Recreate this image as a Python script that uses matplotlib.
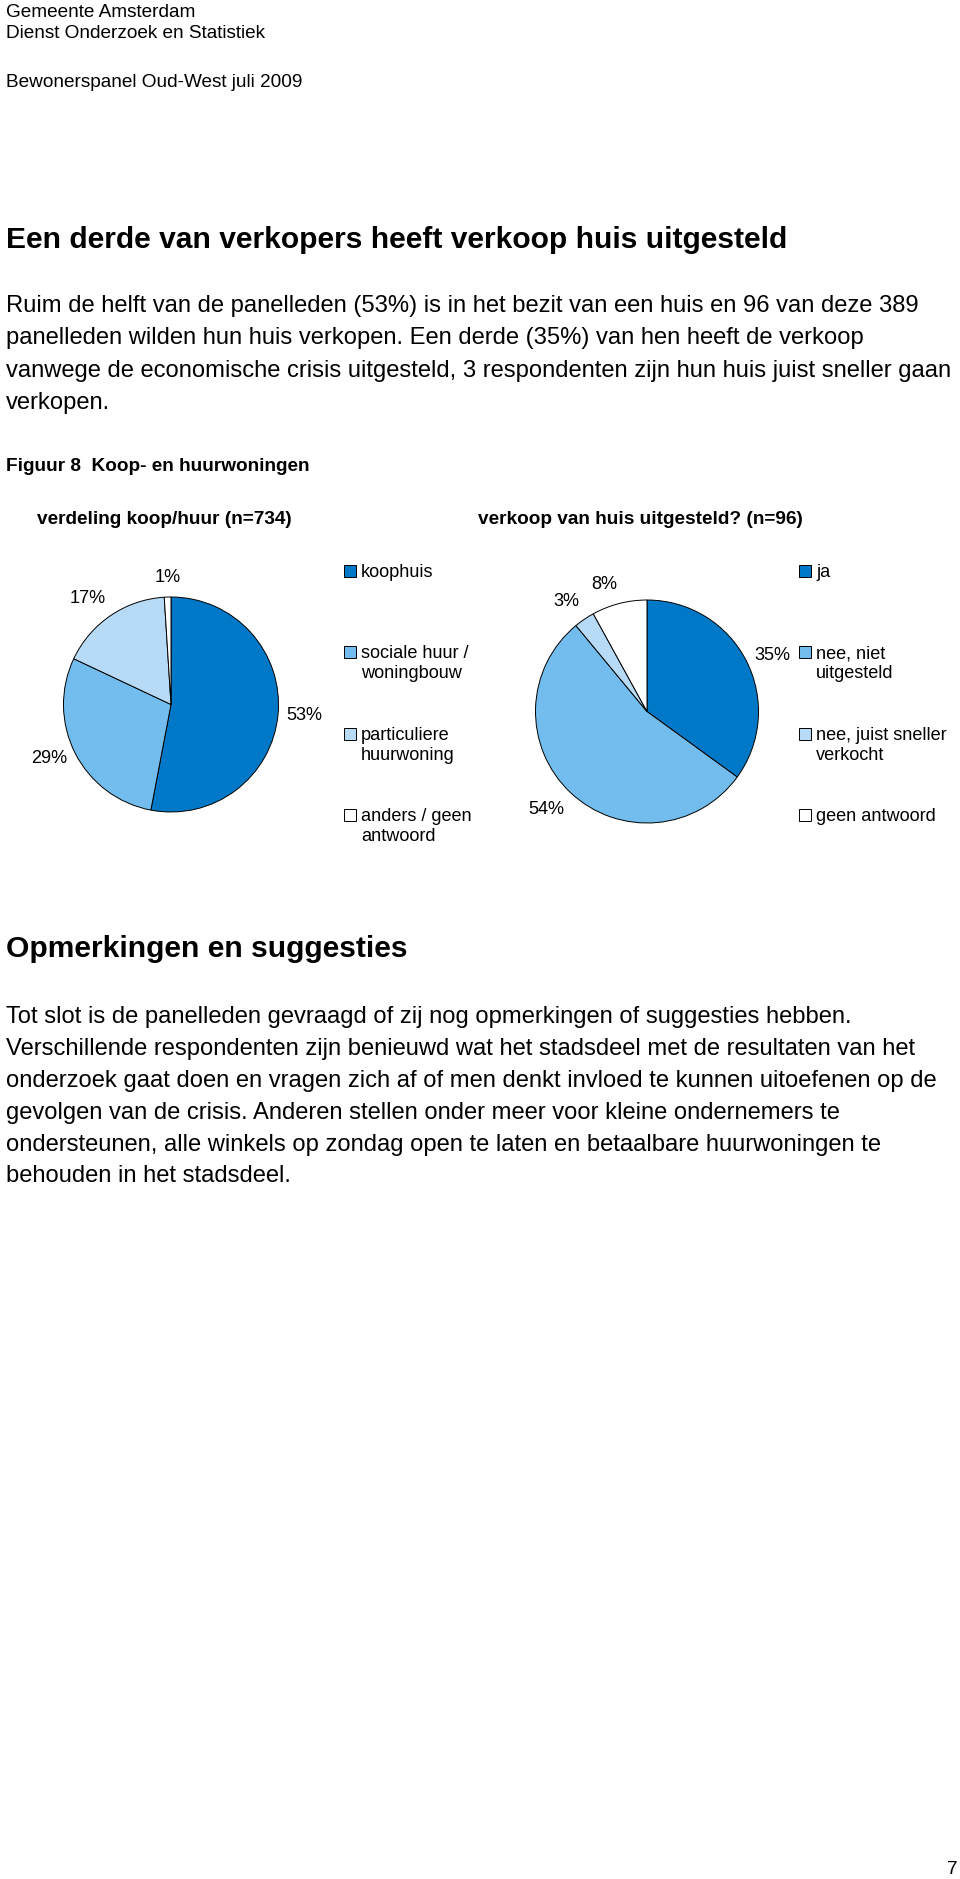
import matplotlib
matplotlib.use("Agg")
import numpy as np
import matplotlib.pyplot as plt
from matplotlib.patches import Rectangle

plt.rcParams["font.family"] = ["Liberation Sans", "DejaVu Sans"]

W, H = 960, 1879
TEXT = "#000000"
DARK = "#0078c8"
MID = "#72bded"
LIGHT = "#b7dbf6"
WHITE = "#ffffff"

# ---------------------------------------------------------------- data
HEADER = ["Gemeente Amsterdam", "Dienst Onderzoek en Statistiek"]
SUBHEADER = "Bewonerspanel Oud-West juli 2009"
TITLE = "Een derde van verkopers heeft verkoop huis uitgesteld"
INTRO = [
    "Ruim de helft van de panelleden (53%) is in het bezit van een huis en 96 van deze 389",
    "panelleden wilden hun huis verkopen. Een derde (35%) van hen heeft de verkoop",
    "vanwege de economische crisis uitgesteld, 3 respondenten zijn hun huis juist sneller gaan",
    "verkopen.",
]
FIG_CAPTION = "Figuur 8  Koop- en huurwoningen"

PIE1_TITLE = "verdeling koop/huur (n=734)"
PIE1_LABELS = ["koophuis", "sociale huur /\nwoningbouw", "particuliere\nhuurwoning",
               "anders / geen\nantwoord"]
PIE1_VALUES = [53, 29, 17, 1]

PIE2_TITLE = "verkoop van huis uitgesteld? (n=96)"
PIE2_LABELS = ["ja", "nee, niet\nuitgesteld", "nee, juist sneller\nverkocht", "geen antwoord"]
PIE2_VALUES = [35, 54, 3, 8]

PIE_COLORS = [DARK, MID, LIGHT, WHITE]

SECTION2 = "Opmerkingen en suggesties"
OUTRO = [
    "Tot slot is de panelleden gevraagd of zij nog opmerkingen of suggesties hebben.",
    "Verschillende respondenten zijn benieuwd wat het stadsdeel met de resultaten van het",
    "onderzoek gaat doen en vragen zich af of men denkt invloed te kunnen uitoefenen op de",
    "gevolgen van de crisis. Anderen stellen onder meer voor kleine ondernemers te",
    "ondersteunen, alle winkels op zondag open te laten en betaalbare huurwoningen te",
    "behouden in het stadsdeel.",
]
PAGE = "7"

# ---------------------------------------------------------------- layout
fig = plt.figure(figsize=(W / 100, H / 100), dpi=100)
page = fig.add_axes([0, 0, 1, 1])
page.set_xlim(0, W)
page.set_ylim(H, 0)
page.axis("off")

LM = 6
BODY = 17.1
HEAD = 21.6
SMALL = 13.1


def lines(ax, rows, y0, step, size, weight="normal"):
    for i, row in enumerate(rows):
        ax.text(LM, y0 + i * step, row, fontsize=size, fontweight=weight,
                color=TEXT, va="baseline", ha="left")


lines(page, HEADER, 17, 21, 13.7)
lines(page, [SUBHEADER], 87, 0, 13.7)
lines(page, [TITLE], 248, 0, HEAD, "bold")
lines(page, INTRO, 312, 32.3, BODY)
lines(page, [FIG_CAPTION], 471, 0, 13.65, "bold")


def pie_axes(cx, cy, r):
    ax = fig.add_axes([(cx - r) / W, (H - cy - r) / H, 2 * r / W, 2 * r / H])
    ax.axis("off")
    return ax


def draw_pie(ax, values):
    wedges, _ = ax.pie(values, colors=PIE_COLORS, startangle=90, counterclock=False,
                       radius=1, wedgeprops=dict(edgecolor="black", linewidth=0.7))
    ax.set_xlim(-1, 1)
    ax.set_ylim(-1, 1)
    # Excel-style outside labels: anchored just off the rim, aligned away from the pie
    for w, v in zip(wedges, values):
        ang = np.deg2rad((w.theta1 + w.theta2) / 2)
        c, s = np.cos(ang), np.sin(ang)
        ha = "center" if abs(c) < 0.15 else ("left" if c > 0 else "right")
        va = "center" if abs(s) < 0.5 else ("bottom" if s > 0 else "top")
        ax.text(1.08 * c, 1.1 * s, f"{v}%", ha=ha, va=va, fontsize=SMALL, color=TEXT)


def legend(ax, labels, x_sq, y0, step):
    for i, lab in enumerate(labels):
        y = y0 + i * step
        ax.add_patch(Rectangle((x_sq, y - 6), 12, 12, facecolor=PIE_COLORS[i],
                               edgecolor="black", linewidth=0.7))
        for j, part in enumerate(lab.split("\n")):
            ax.text(x_sq + 17, y + 6 + j * 20, part, fontsize=SMALL, color=TEXT,
                    va="baseline", ha="left")


page.text(37, 524, PIE1_TITLE, fontsize=13.65, fontweight="bold", va="baseline")
page.text(478, 524, PIE2_TITLE, fontsize=13.65, fontweight="bold", va="baseline")

ax1 = pie_axes(171, 704.5, 107.5)
draw_pie(ax1, PIE1_VALUES)
legend(page, PIE1_LABELS, 344, 571, 81.3)

ax2 = pie_axes(647, 711.5, 111.5)
draw_pie(ax2, PIE2_VALUES)
legend(page, PIE2_LABELS, 799, 571, 81.3)

lines(page, [SECTION2], 957, 0, HEAD, "bold")
lines(page, OUTRO, 1023, 31.9, BODY)

page.text(952, 1874, PAGE, fontsize=13.7, ha="center", va="baseline")

fig.savefig("out.png", dpi=100, facecolor="white")
